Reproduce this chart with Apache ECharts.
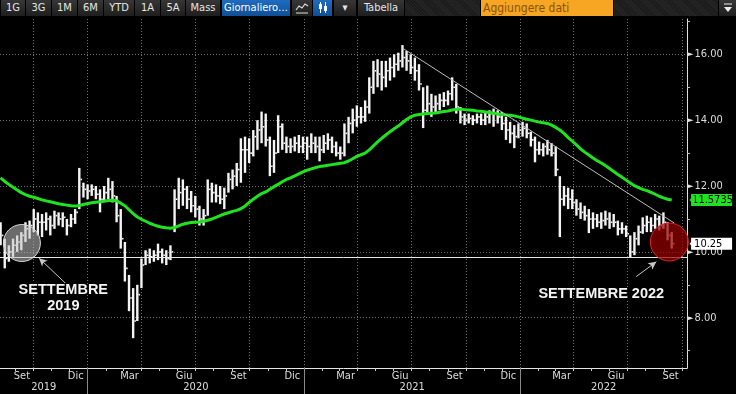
<!DOCTYPE html>
<html>
<head>
<meta charset="utf-8">
<script src="https://cdn.jsdelivr.net/npm/echarts@6/dist/echarts.min.js"></script>
<style>
html,body{margin:0;padding:0;background:#000;}
#wrap{position:relative;width:736px;height:394px;overflow:hidden;background:#000;}
#chart{position:absolute;left:0;top:0;width:736px;height:394px;}
#tb{position:absolute;left:0;top:0;width:736px;height:17px;background:#000;z-index:5;
  font:11px "Liberation Sans Narrow","DejaVu Sans Condensed","Arial Narrow",sans-serif;color:#e6e6e6;}
#tb .b{position:absolute;top:0;height:16px;line-height:16px;text-align:center;white-space:nowrap;overflow:hidden;
  background:linear-gradient(#363636,#1e1e1e);}
#tb .blue{background:linear-gradient(#1f6cc0,#0f4f97);color:#fff;}
#tb .hatch{background:repeating-linear-gradient(45deg,#1a1a1a 0 1px,#262626 1px 2px);}
#tb .orange{background:#f6a623;color:#8a5206;text-align:left;padding-left:2px;box-sizing:border-box;font-size:12px;}
</style>
</head>
<body>
<div id="wrap">
  <div id="chart"></div>
  <div id="tb">
    <div class="b" style="left:1px;width:24px">1G</div>
    <div class="b" style="left:26px;width:25px">3G</div>
    <div class="b" style="left:52px;width:25px">1M</div>
    <div class="b" style="left:78px;width:25px">6M</div>
    <div class="b" style="left:104px;width:30px">YTD</div>
    <div class="b" style="left:135px;width:25px">1A</div>
    <div class="b" style="left:161px;width:24px">5A</div>
    <div class="b" style="left:186px;width:34px">Mass</div>
    <div class="b blue" style="left:222px;width:68px">Giornaliero…</div>
    <div class="b" style="left:292px;width:20px"><svg width="14" height="12" viewBox="0 0 14 12" style="margin-top:2px"><polyline points="1,8 4,4 7,6 10,2 13,4" fill="none" stroke="#ddd" stroke-width="1.2"/><line x1="1" y1="11" x2="13" y2="11" stroke="#ddd"/></svg></div>
    <div class="b blue" style="left:313px;width:19px"><svg width="12" height="13" viewBox="0 0 12 13" style="margin-top:1px"><line x1="3.5" y1="1" x2="3.5" y2="12" stroke="#fff"/><line x1="8.5" y1="1" x2="8.5" y2="12" stroke="#fff"/><rect x="2" y="3" width="3" height="5" fill="#fff"/><rect x="7" y="5" width="3" height="5" fill="#fff"/></svg></div>
    <div class="b" style="left:334px;width:22px">▾</div>
    <div class="b" style="left:358px;width:46px">Tabella</div>
    <div class="b hatch" style="left:405px;width:75px"></div>
    <div class="b orange" style="left:481px;width:132px">Aggiungere dati</div>
    <div class="b hatch" style="left:614px;width:104px"></div>
    <div class="b" style="left:719px;width:17px"><svg width="10" height="12" viewBox="0 0 10 12" style="margin-top:2px"><line x1="1" y1="2" x2="9" y2="2" stroke="#eee"/><polygon points="1,5 9,5 5,10" fill="#eee"/></svg></div>
  </div>
</div>
<script>
// ---------------- DATA (weekly) ----------------
const firstWeek = '2019-08-07';           // first weekly bar (categories step 7 days)
const lows = [
 10.2, 9.5, 9.7, 9.85, 10.0, 10.05, 10.3, 10.4, 10.6, 10.5,
 10.45, 10.65, 10.5, 10.7, 10.8, 10.75, 10.5, 10.75, 10.85, 11.3,
 11.65, 11.6, 11.7, 11.6, 11.2, 11.55, 11.6, 11.5, 10.9, 10.1,
 9.1, 8.2, 7.38, 7.9, 8.9, 9.6, 9.65, 9.7, 9.75, 9.65,
 9.6, 9.75, 10.6, 11.3, 11.4, 11.3, 11.2, 11.05, 10.8, 10.8,
 11.1, 11.5, 11.5, 11.45, 11.3, 11.8, 11.9, 12.0, 12.1, 12.4,
 12.7, 12.9, 13.1, 13.3, 13.2, 12.3, 12.4, 13.0, 13.1, 13.0,
 13.0, 13.05, 13.0, 13.0, 12.8, 13.0, 13.0, 12.75, 13.0, 13.1,
 13.0, 12.9, 12.8, 12.9, 13.3, 13.6, 13.8, 13.9, 13.95, 14.2,
 14.8, 15.0, 14.9, 15.0, 15.2, 15.3, 15.5, 15.6, 15.5, 15.4,
 15.2, 14.9, 13.76, 14.2, 14.1, 14.2, 14.3, 14.4, 14.45, 14.6,
 14.2, 13.9, 13.85, 13.9, 13.85, 13.9, 13.85, 13.85, 13.9, 13.8,
 13.9, 13.7, 13.4, 13.3, 13.15, 13.45, 13.5, 13.45, 13.2, 12.72,
 12.95, 12.9, 12.95, 12.9, 12.3, 10.45, 11.4, 11.3, 11.3, 11.1,
 11.0, 10.95, 10.57, 10.7, 10.75, 10.7, 10.8, 10.7, 10.75, 10.5,
 10.55, 10.45, 9.82, 9.9, 10.2, 10.55, 10.6, 10.6, 10.7, 10.65,
 10.7, 10.35, 10.1
];
const highs = [
 10.9, 10.4, 10.2, 10.4, 10.5, 10.6, 10.9, 10.95, 11.3, 11.2,
 11.15, 11.2, 11.1, 11.25, 11.2, 11.2, 11.0, 11.15, 11.3, 12.55,
 12.1, 12.05, 12.05, 12.0, 11.9, 12.0, 12.25, 12.15, 11.7, 11.3,
 10.3, 9.3, 8.9, 9.0, 9.8, 10.05, 10.1, 10.05, 10.25, 10.1,
 10.05, 10.2, 11.9, 12.25, 12.2, 12.0, 11.85, 11.7, 11.4, 11.3,
 12.2, 12.1, 12.05, 12.0, 11.95, 12.4, 12.5, 12.7, 13.45, 13.5,
 13.45, 13.7, 14.0, 14.26, 14.2, 13.5, 13.4, 14.15, 13.9, 13.5,
 13.45, 13.5, 13.55, 13.5, 13.5, 13.6, 13.5, 13.5, 13.55, 13.6,
 13.5, 13.35, 13.2, 13.9, 14.1, 14.35, 14.45, 14.4, 14.6, 15.3,
 15.8, 15.85, 15.8, 15.8, 15.9, 16.0, 16.05, 16.28, 16.1, 16.0,
 15.9, 15.7, 15.0, 15.05, 14.8, 14.75, 14.8, 14.85, 14.9, 15.3,
 15.1, 14.4, 14.2, 14.2, 14.15, 14.2, 14.2, 14.25, 14.3, 14.35,
 14.3, 14.25, 14.1, 13.95, 13.85, 13.9, 13.95, 13.9, 13.65, 13.5,
 13.35, 13.3, 13.4, 13.3, 13.2, 12.3, 12.0, 11.95, 11.9, 11.6,
 11.5, 11.4, 11.3, 11.2, 11.15, 11.2, 11.25, 11.2, 11.15, 10.95,
 10.9, 10.8, 10.5, 10.6, 10.8, 11.05, 11.1, 11.05, 11.15, 11.1,
 11.2, 10.9, 10.6
];
const closes = [
 10.5, 9.8, 10.0, 10.2, 10.3, 10.5, 10.7, 10.8, 11.0, 10.9,
 10.9, 11.0, 10.8, 11.1, 11.0, 11.05, 10.8, 11.0, 11.2, 12.2,
 11.9, 11.85, 11.9, 11.75, 11.6, 11.8, 11.9, 11.7, 11.1, 10.4,
 9.5, 8.6, 7.9, 8.7, 9.6, 9.9, 9.85, 9.9, 10.0, 9.9,
 9.8, 10.0, 11.6, 11.8, 11.9, 11.6, 11.4, 11.3, 11.0, 11.1,
 11.9, 11.8, 11.7, 11.6, 11.7, 12.2, 12.3, 12.5, 13.1, 13.1,
 13.0, 13.5, 13.7, 13.8, 13.4, 12.6, 13.0, 13.8, 13.3, 13.2,
 13.2, 13.3, 13.2, 13.3, 13.2, 13.3, 13.2, 13.1, 13.3, 13.4,
 13.2, 13.0, 13.0, 13.6, 13.9, 14.0, 14.1, 14.1, 14.4, 15.0,
 15.5, 15.4, 15.3, 15.5, 15.6, 15.7, 15.8, 15.9, 15.8, 15.6,
 15.5, 15.1, 14.3, 14.5, 14.4, 14.5, 14.6, 14.6, 14.8, 15.0,
 14.4, 14.1, 14.0, 14.05, 14.0, 14.1, 14.0, 14.1, 14.2, 14.2,
 14.1, 13.9, 13.7, 13.6, 13.5, 13.7, 13.75, 13.6, 13.4, 13.1,
 13.1, 13.2, 13.1, 13.0, 12.5, 11.6, 11.7, 11.6, 11.5, 11.3,
 11.2, 11.1, 11.0, 11.0, 10.9, 10.95, 11.0, 10.9, 10.9, 10.7,
 10.7, 10.55, 10.0, 10.4, 10.6, 10.8, 10.9, 10.8, 11.0, 10.8,
 10.9, 10.5, 10.25
];
const ma200 = [
 12.25, 12.14, 12.05, 11.96, 11.88, 11.80, 11.74, 11.69, 11.66, 11.62,
 11.58, 11.55, 11.52, 11.49, 11.46, 11.44, 11.42, 11.40, 11.39, 11.41,
 11.44, 11.47, 11.49, 11.51, 11.52, 11.54, 11.56, 11.57, 11.55, 11.48,
 11.40, 11.28, 11.16, 11.06, 10.99, 10.93, 10.87, 10.82, 10.78, 10.75,
 10.73, 10.72, 10.74, 10.79, 10.84, 10.87, 10.89, 10.90, 10.91, 10.93,
 10.96, 11.00, 11.05, 11.10, 11.15, 11.19, 11.23, 11.26, 11.31, 11.39,
 11.50, 11.60, 11.69, 11.77, 11.82, 11.90, 11.98, 12.05, 12.13, 12.20,
 12.25, 12.31, 12.37, 12.43, 12.48, 12.52, 12.56, 12.59, 12.61, 12.63,
 12.65, 12.67, 12.69, 12.71, 12.76, 12.83, 12.90, 12.95, 13.00, 13.10,
 13.22, 13.34, 13.45, 13.55, 13.65, 13.74, 13.82, 13.92, 14.02, 14.10,
 14.15, 14.17, 14.19, 14.20, 14.21, 14.22, 14.24, 14.26, 14.28, 14.31,
 14.33, 14.33, 14.32, 14.31, 14.30, 14.28, 14.27, 14.25, 14.23, 14.21,
 14.19, 14.17, 14.16, 14.15, 14.13, 14.10, 14.06, 14.03, 14.00, 13.97,
 13.94, 13.92, 13.90, 13.85, 13.78, 13.70, 13.60, 13.47, 13.36, 13.25,
 13.13, 13.03, 12.94, 12.85, 12.77, 12.70, 12.62, 12.53, 12.44, 12.35,
 12.27, 12.18, 12.09, 12.01, 11.95, 11.90, 11.86, 11.81, 11.75, 11.69,
 11.64, 11.60, 11.5735
];
// axis
const axisStart = '2019-08-06', axisEnd = '2022-10-10';
const yMin = 6.474, yMax = 17.072;
const yMajorTicks = [8, 10, 12, 14, 16];
const yMinorTicks = [7, 9, 11, 13, 15, 17];
const monthNames = {2: 'Mar', 5: 'Giu', 8: 'Set', 11: 'Dic'};
const years = [2019, 2020, 2021, 2022];
// annotations
const supportLevel = 9.85;
const trendStart = ['2021-06-16', 16.19], trendEnd = ['2022-09-18', 10.88];
const circle2019 = ['2019-09-12', 10.27], circle2022 = ['2022-09-10', 10.30];
const arrow2019 = [['2019-11-28', 8.99], ['2019-10-11', 9.81]];
const arrow2022 = [['2022-07-16', 9.25], ['2022-08-19', 9.70]];
const label2019 = ['2019-11-21', 8.60], label2022 = ['2022-05-18', 8.72];

// ---------------- helpers ----------------
const EPOCH = Date.UTC(2019, 0, 1), DAY = 86400000;
const dn = s => { const p = s.split('-').map(Number); return Math.round((Date.UTC(p[0], p[1]-1, p[2]) - EPOCH) / DAY); };
const dnYMD = (y, m, d) => Math.round((Date.UTC(y, m, d) - EPOCH) / DAY);
const xMin = dn(axisStart), xMax = dn(axisEnd);
const weekDays = lows.map((_, i) => dn(firstWeek) + 7 * i);

const monthTicks = [], quarterTicks = [], monthLabelPos = [], monthLabelText = {};
for (let y = 2019; y <= 2022; y++) {
  for (let m = 0; m < 12; m++) {
    const d = dnYMD(y, m, 1);
    if (d < xMin || d > xMax) continue;
    monthTicks.push(d);
    if (m % 3 === 0) quarterTicks.push(d);
  }
  for (const m of [2, 5, 8, 11]) {
    const d = dnYMD(y, m, 12);
    if (d > xMin && d < xMax) { monthLabelPos.push(d); monthLabelText[d] = monthNames[m]; }
  }
}
const yearBounds = years.slice(1).map(y => dnYMD(y, 0, 1));
const yearCenters = [], yearText = {};
years.forEach(y => {
  const a = Math.max(dnYMD(y, 0, 1), xMin), b = Math.min(dnYMD(y + 1, 0, 1), xMax);
  const c = (a + b) / 2; yearCenters.push(c); yearText[c] = String(y);
});
const maLast = ma200[ma200.length - 1], closeLast = closes[closes.length - 1];
const pt = a => [dn(a[0]), a[1]];

const FONT = '"Liberation Sans Narrow","DejaVu Sans Condensed","Arial Narrow",sans-serif';
const TXT = '#dcdcdc';
const GREEN = '#1fe31f';
const gridDots = {color: '#707070', width: 1, type: [1, 2]};

const chart = echarts.init(document.getElementById('chart'));
chart.setOption({
  animation: false,
  backgroundColor: '#000',
  grid: {left: 0, right: 45, top: 19, bottom: 26, containLabel: false},
  xAxis: [
    { // data axis, month ticks and labels
      type: 'value', min: xMin, max: xMax, position: 'bottom',
      axisLine: {show: true, lineStyle: {color: '#e6e6e6', width: 1}},
      axisTick: {show: true, customValues: monthTicks, length: 3, lineStyle: {color: '#cfcfcf'}},
      axisLabel: {customValues: monthLabelPos, formatter: v => monthLabelText[v] || '', margin: 3,
                  color: TXT, fontSize: 11, fontFamily: FONT},
      splitLine: {show: false}
    },
    { // quarter gridlines
      type: 'value', min: xMin, max: xMax, position: 'bottom',
      axisLine: {show: false}, axisLabel: {show: false},
      axisTick: {show: false, customValues: quarterTicks},
      splitLine: {show: true, lineStyle: gridDots}
    },
    { // years
      type: 'value', min: xMin, max: xMax, position: 'bottom',
      axisLine: {show: false},
      axisTick: {show: true, customValues: yearBounds, length: 26, lineStyle: {color: '#8a8a8a'}},
      axisLabel: {customValues: yearCenters, formatter: v => yearText[v] || '', margin: 14,
                  color: TXT, fontSize: 11, fontFamily: FONT},
      splitLine: {show: false}
    }
  ],
  yAxis: [
    {
      type: 'value', position: 'right', min: yMin, max: yMax,
      axisLine: {show: true, lineStyle: {color: '#e0e0e0', width: 1}},
      axisTick: {show: true, customValues: yMajorTicks, length: 4, lineStyle: {color: '#e0e0e0'}},
      axisLabel: {customValues: yMajorTicks, formatter: v => '{a|►}' + v.toFixed(2), margin: 1,
                  color: TXT, fontSize: 11, fontFamily: FONT,
                  rich: {a: {fontSize: 7, color: '#e0e0e0', fontFamily: 'DejaVu Sans', padding: [0, 1, 0, 0]}}},
      splitLine: {show: true, lineStyle: gridDots}
    },
    {
      type: 'value', position: 'right', min: yMin, max: yMax,
      axisLine: {show: false}, axisLabel: {show: false}, splitLine: {show: false},
      axisTick: {show: true, customValues: yMinorTicks, length: 3, lineStyle: {color: '#bbbbbb'}}
    },
    {
      type: 'value', position: 'right', min: yMin, max: yMax,
      axisLine: {show: false}, axisTick: {show: false}, splitLine: {show: false},
      axisLabel: {
        customValues: [maLast, closeLast], margin: 4, fontFamily: FONT, fontSize: 11,
        formatter: v => (Math.abs(v - maLast) < 1e-9 ? '{g|' : '{w|') + v + '}',
        rich: {
          g: {backgroundColor: GREEN, color: '#000', width: 40, height: 12, lineHeight: 12, padding: [0, 0, 0, 1], fontFamily: FONT, fontSize: 11},
          w: {backgroundColor: '#ffffff', color: '#000', width: 38, height: 12, lineHeight: 12, padding: [0, 0, 0, 3], fontFamily: FONT, fontSize: 11}
        }
      }
    }
  ],
  series: [
    {
      type: 'custom', name: 'Prezzo', xAxisIndex: 0, yAxisIndex: 0, z: 2, silent: true,
      data: weekDays.map((d, i) => [d, lows[i], highs[i], closes[i]]),
      encode: {x: 0, y: [1, 2, 3]},
      renderItem: (params, api) => {
        const x = api.value(0);
        const lo = api.coord([x, api.value(1)]), hi = api.coord([x, api.value(2)]), c = api.coord([x, api.value(3)]);
        return {type: 'group', children: [
          {type: 'rect', shape: {x: lo[0] - 1.2, y: hi[1], width: 2.4, height: Math.max(1, lo[1] - hi[1])}, style: {fill: '#f4f4f4'}},
          {type: 'rect', shape: {x: c[0] + 1.2, y: c[1] - 0.8, width: 1.6, height: 1.6}, style: {fill: '#f4f4f4'}}
        ]};
      }
    },
    {
      type: 'line', name: 'Media mobile', xAxisIndex: 0, yAxisIndex: 0, z: 3, silent: true,
      data: weekDays.map((d, i) => [d, ma200[i]]),
      showSymbol: false, symbol: 'none',
      lineStyle: {color: GREEN, width: 3},
      markLine: {
        silent: true, symbol: ['none', 'none'], label: {show: false},
        lineStyle: {color: '#e8e8e8', width: 1, type: 'solid'},
        emphasis: {disabled: true},
        data: [
          {yAxis: supportLevel, lineStyle: {color: '#e8e8e8', width: 1, type: 'solid'}},
          [{coord: pt(trendStart), lineStyle: {color: '#bdbdbd', width: 1, type: 'solid'}},
           {coord: pt(trendEnd), lineStyle: {color: '#bdbdbd', width: 1, type: 'solid'}}],
          [{coord: pt(arrow2019[0]), symbol: 'none', lineStyle: {color: '#c8c8c8', width: 1, type: 'solid'}},
           {coord: pt(arrow2019[1]), symbol: 'arrow', symbolSize: [6, 8], lineStyle: {color: '#c8c8c8', width: 1, type: 'solid'}}],
          [{coord: pt(arrow2022[0]), symbol: 'none', lineStyle: {color: '#c8c8c8', width: 1, type: 'solid'}},
           {coord: pt(arrow2022[1]), symbol: 'arrow', symbolSize: [6, 8], lineStyle: {color: '#c8c8c8', width: 1, type: 'solid'}}]
        ]
      },
      markPoint: {
        silent: true, animation: false,
        data: [
          {coord: pt(circle2019), symbol: 'circle', symbolSize: 37,
           itemStyle: {color: 'rgba(195,195,195,0.55)', borderColor: '#d8d8d8', borderWidth: 1}, label: {show: false}},
          {coord: pt(circle2022), symbol: 'circle', symbolSize: 38,
           itemStyle: {color: 'rgba(150,0,0,0.72)', borderColor: '#e02424', borderWidth: 1}, label: {show: false}},
          {coord: pt(label2019), symbol: 'circle', symbolSize: 1, itemStyle: {color: 'rgba(0,0,0,0)'},
           label: {show: true, position: 'inside', formatter: 'SETTEMBRE\n2019', color: '#f4f4f4', fontSize: 14.5,
                   fontWeight: 'bold', fontFamily: '"Liberation Sans",Arial,sans-serif', lineHeight: 16, align: 'center',
                   textBorderColor: '#000', textBorderWidth: 2}},
          {coord: pt(label2022), symbol: 'circle', symbolSize: 1, itemStyle: {color: 'rgba(0,0,0,0)'},
           label: {show: true, position: 'inside', formatter: 'SETTEMBRE 2022', color: '#f4f4f4', fontSize: 14.5,
                   fontWeight: 'bold', fontFamily: '"Liberation Sans",Arial,sans-serif', align: 'center',
                   textBorderColor: '#000', textBorderWidth: 2}},
          // pointers of the value tags on the price axis
          {coord: [xMax, maLast], symbol: 'triangle', symbolSize: [12, 5], symbolRotate: 90, symbolOffset: [5, 0],
           itemStyle: {color: GREEN}, label: {show: false}},
          {coord: [xMax, closeLast], symbol: 'triangle', symbolSize: [12, 5], symbolRotate: 90, symbolOffset: [5, 0],
           itemStyle: {color: '#ffffff'}, label: {show: false}}
        ]
      }
    }
  ]
});
</script>
</body>
</html>
